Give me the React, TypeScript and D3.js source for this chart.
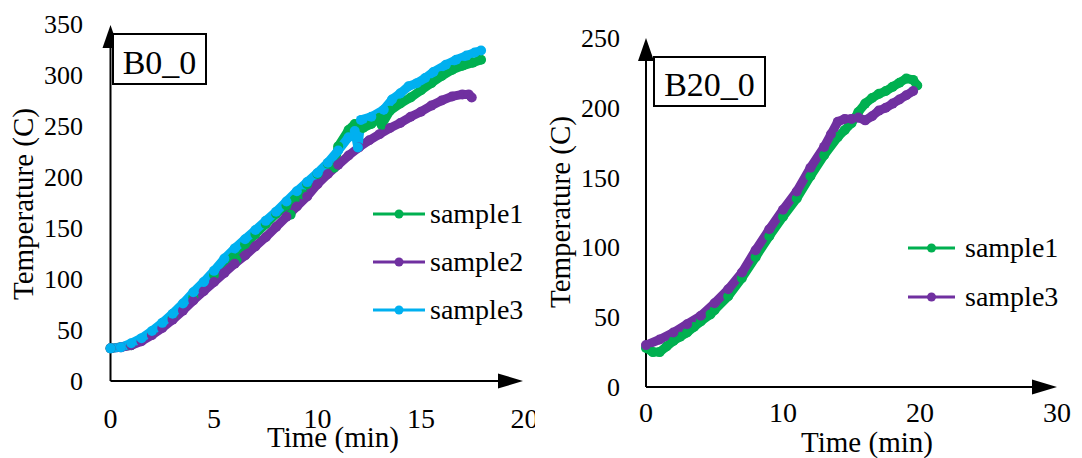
import React, { useEffect, useRef } from "react";
import * as d3 from "d3";

// ---- data: [time (min), temperature (C)] ----
const b0Sample1: [number, number][] = [
  [0, 32], [1, 35], [2, 46], [3, 62], [4, 82], [5, 104], [5.9, 121], [6.1, 119], [6.5, 134],
  [7, 144], [7.5, 154], [8, 164], [8.5, 172], [8.7, 163], [8.9, 178], [9.3, 183], [9.5, 193],
  [10, 203], [10.5, 213], [10.8, 209], [11, 230], [11.5, 246], [11.8, 252], [12.2, 248],
  [12.6, 252], [13, 258], [13.1, 251], [13.5, 265], [14, 272], [14.5, 278], [15, 285],
  [15.5, 292], [16, 299], [16.5, 305], [17, 309], [17.5, 312], [17.9, 315],
];
const b0Sample2: [number, number][] = [
  [0, 32], [0.5, 33], [1, 35], [1.5, 39], [2, 45], [2.5, 52], [3, 60], [3.5, 69], [4, 79],
  [4.5, 88], [5, 97], [5.5, 106], [6, 115], [6.5, 123], [7, 132], [7.5, 141], [8, 151],
  [8.5, 161], [9, 171], [9.5, 181], [10, 193], [10.5, 203], [11, 212], [11.5, 221], [12, 229],
  [12.5, 236], [13, 242], [13.5, 248], [14, 253], [14.5, 259], [15, 264], [15.5, 270],
  [16, 275], [16.5, 279], [17, 281], [17.3, 281], [17.45, 278],
];
const b0Sample3: [number, number][] = [
  [0, 32], [0.5, 33], [1, 37], [1.5, 42], [2, 49], [2.5, 57], [3, 66], [3.5, 76], [4, 87],
  [4.5, 97], [5, 108], [5.5, 120], [6, 130], [6.5, 139], [7, 148], [7.5, 157], [8, 166],
  [8.5, 176], [9, 186], [9.5, 195], [10, 204], [10.5, 214], [11, 226], [11.5, 239],
  [11.8, 245], [11.95, 229], [12.1, 256], [12.6, 259], [13.2, 266], [13.6, 276], [14, 282],
  [14.4, 289], [14.8, 292], [15.2, 297], [15.6, 303], [16.2, 310], [16.7, 315], [17.2, 319],
  [17.6, 322], [17.9, 324],
];

const b20Sample1: [number, number][] = [
  [0, 28], [0.5, 25], [1, 25], [1.5, 29], [2, 33], [2.5, 36], [3, 39], [3.5, 43], [4, 47],
  [4.7, 52], [5, 55], [6, 65], [7, 78], [8, 93], [9, 108], [10, 122], [11, 135], [12, 151],
  [13, 166], [14, 179], [14.5, 184], [15, 189], [15.5, 197], [16, 203], [16.5, 207],
  [17, 210], [17.5, 212], [18, 215], [18.5, 218], [19, 221], [19.5, 220], [19.8, 216],
];
const b20Sample3: [number, number][] = [
  [0, 30], [1, 34], [2, 39], [3, 45], [4, 51], [5, 60], [6, 70], [7, 82], [8, 98], [9, 113],
  [10, 127], [11, 140], [12, 157], [13, 172], [13.5, 181], [14, 190], [14.5, 192], [15, 192],
  [15.5, 193], [16, 191], [16.5, 194], [17, 198], [17.5, 200], [18, 203], [18.5, 206],
  [19, 209], [19.5, 212],
];

const b0YTicks = [0, 50, 100, 150, 200, 250, 300, 350];
const b0XTicks = [0, 5, 10, 15, 20];
const b20YTicks = [0, 50, 100, 150, 200, 250];
const b20XTicks = [0, 10, 20, 30];

const GREEN = "#00B050";
const PURPLE = "#7030A0";
const CYAN = "#00B0F0";
const FONT = "Liberation Serif";

type Series = { name: string; color: string; data: [number, number][] };

type PanelProps = {
  title: string;
  series: Series[];
  x: d3.ScaleLinear<number, number>;
  y: d3.ScaleLinear<number, number>;
  xTicks: number[];
  yTicks: number[];
  yArrowTip: number;
  xArrowTip: number;
  yLabelX: number;
  xLabelY: number;
  yTitle: [number, number];
  xTitle: [number, number];
  box: { x: number; y: number; w: number; h: number; baseline: number };
  legend: { x0: number; x1: number; text: number; ys: number[] };
};

const Panel = (p: PanelProps) => {
  const x0 = p.x(0);
  const y0 = p.y(0);
  const line = d3
    .line<[number, number]>()
    .x((d) => p.x(d[0]))
    .y((d) => p.y(d[1]));

  return (
    <>
      <line x1={x0} y1={y0} x2={x0} y2={p.yArrowTip + 20} stroke="#000" strokeWidth={2} />
      <path d={`M${x0},${p.yArrowTip} L${x0 - 8},${p.yArrowTip + 23} L${x0 + 8},${p.yArrowTip + 23} Z`} fill="#000" />
      <line x1={x0} y1={y0} x2={p.xArrowTip - 20} y2={y0} stroke="#000" strokeWidth={2} />
      <path d={`M${p.xArrowTip},${y0} L${p.xArrowTip - 25},${y0 - 7.5} L${p.xArrowTip - 25},${y0 + 7.5} Z`} fill="#000" />

      {p.yTicks.map((t) => (
        <text key={"y" + t} x={p.yLabelX} y={p.y(t) + 9} textAnchor="end" fontSize={26} style={{ fontFamily: FONT }}>
          {t}
        </text>
      ))}
      {p.xTicks.map((t) => (
        <text key={"x" + t} x={p.x(t)} y={p.xLabelY} textAnchor="middle" fontSize={28} style={{ fontFamily: FONT }}>
          {t}
        </text>
      ))}

      {p.series.map((s) => (
        <path key={"l" + s.name} d={line(s.data) ?? ""} fill="none" stroke={s.color} strokeWidth={9} strokeLinejoin="round" strokeLinecap="round" />
      ))}
      {p.series.map((s) =>
        s.data.map((d, i) => <circle key={s.name + i} cx={p.x(d[0])} cy={p.y(d[1])} r={5} fill={s.color} />)
      )}

      <rect x={p.box.x} y={p.box.y} width={p.box.w} height={p.box.h} fill="#fff" stroke="#000" strokeWidth={2} />
      <text x={p.box.x + p.box.w / 2} y={p.box.baseline} textAnchor="middle" fontSize={34} style={{ fontFamily: FONT }}>
        {p.title}
      </text>

      {p.series.map((s, i) => (
        <React.Fragment key={"lg" + s.name}>
          <line x1={p.legend.x0} x2={p.legend.x1} y1={p.legend.ys[i]} y2={p.legend.ys[i]} stroke={s.color} strokeWidth={3} />
          <circle cx={(p.legend.x0 + p.legend.x1) / 2} cy={p.legend.ys[i]} r={4.5} fill={s.color} />
          <text x={p.legend.text} y={p.legend.ys[i] + 9} fontSize={28} style={{ fontFamily: FONT }}>
            {s.name}
          </text>
        </React.Fragment>
      ))}

      <text
        transform={`translate(${p.yTitle[0]},${p.yTitle[1]}) rotate(-90)`}
        textAnchor="middle"
        fontSize={29}
        style={{ fontFamily: FONT }}
      >
        Temperature (C)
      </text>
      <text x={p.xTitle[0]} y={p.xTitle[1]} textAnchor="middle" fontSize={29} style={{ fontFamily: FONT }}>
        Time (min)
      </text>
    </>
  );
};

const App = () => {
  const width = 1082;
  const height = 458;
  const ref = useRef<SVGSVGElement>(null);

  // force the serif face once mounted
  useEffect(() => {
    if (!ref.current) return;
    d3.select(ref.current)
      .selectAll("text")
      .style("font-family", "'Liberation Serif', 'Times New Roman', serif", "important");
  }, []);

  const xLeft = d3.scaleLinear().domain([0, 20]).range([110.5, 524.5]);
  const yLeft = d3.scaleLinear().domain([0, 350]).range([381, 24]);
  const xRight = d3.scaleLinear().domain([0, 30]).range([646, 1057]);
  const yRight = d3.scaleLinear().domain([0, 250]).range([387, 38]);

  return (
    <svg ref={ref} width={width} height={height} style={{ position: "absolute", left: 0, top: 0 }}>
      <rect width={width} height={height} fill="#fff" />
      <Panel
        title="B0_0"
        series={[
          { name: "sample1", color: GREEN, data: b0Sample1 },
          { name: "sample2", color: PURPLE, data: b0Sample2 },
          { name: "sample3", color: CYAN, data: b0Sample3 },
        ]}
        x={xLeft}
        y={yLeft}
        xTicks={b0XTicks}
        yTicks={b0YTicks}
        yArrowTip={25}
        xArrowTip={523}
        yLabelX={83}
        xLabelY={428}
        yTitle={[33, 204]}
        xTitle={[333, 447]}
        box={{ x: 113, y: 34, w: 93, h: 50, baseline: 74 }}
        legend={{ x0: 373, x1: 425, text: 430, ys: [214, 262, 310] }}
      />
      {/* right image sits on top and clips the last tick of the left one */}
      <rect x={535} y={0} width={width - 535} height={height} fill="#fff" />
      <Panel
        title="B20_0"
        series={[
          { name: "sample1", color: GREEN, data: b20Sample1 },
          { name: "sample3", color: PURPLE, data: b20Sample3 },
        ]}
        x={xRight}
        y={yRight}
        xTicks={b20XTicks}
        yTicks={b20YTicks}
        yArrowTip={38}
        xArrowTip={1057}
        yLabelX={620}
        xLabelY={422}
        yTitle={[570, 212]}
        xTitle={[867, 452]}
        box={{ x: 654, y: 57, w: 111, h: 49, baseline: 96 }}
        legend={{ x0: 908, x1: 955, text: 965, ys: [248, 297] }}
      />
    </svg>
  );
};

export default App;
